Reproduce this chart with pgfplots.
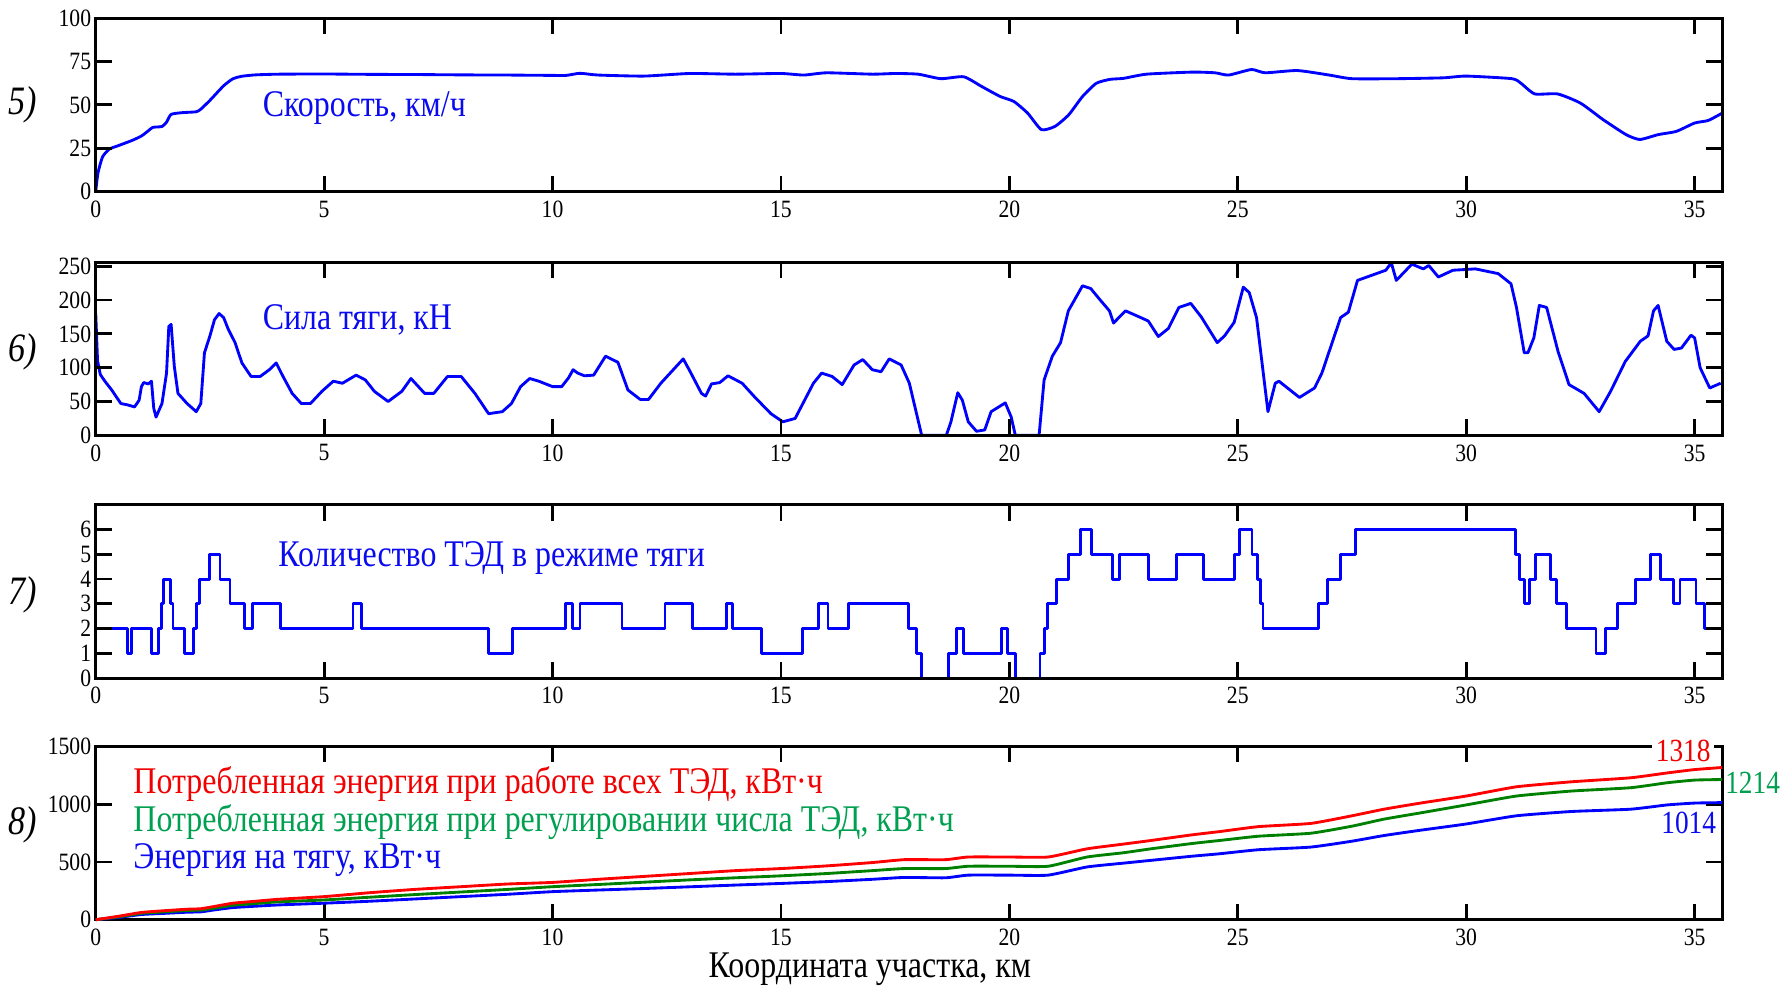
\documentclass[border=0pt]{standalone}
\usepackage{pgfplots}
\pgfplotsset{compat=1.18}
\usepackage{fontspec}
\setmainfont{Liberation Serif}
\definecolor{cblue}{RGB}{0,0,255}
\definecolor{cred}{RGB}{255,0,0}
\definecolor{cgreen}{RGB}{0,128,0}
\definecolor{tgreen}{RGB}{0,160,80}
\definecolor{tred}{RGB}{240,0,0}
\definecolor{tblue}{RGB}{10,10,240}
\tikzset{txt/.style={yscale=1.18, transform shape}}
\pgfplotsset{
 panel/.style={
  scale only axis, width=713.5pt, height=76pt, anchor=north west,
  xmin=0, xmax=35.6, xtick={0,5,...,35},
  tick align=inside, xticklabel pos=lower, yticklabel pos=left,
  xtick pos=both, ytick pos=both,
  major tick length=7pt,
  every tick/.style={black, line width=1.2pt},
  axis line style={line width=1.3pt},
  ticklabel style={font=\fontsize{9.5}{10}\selectfont, yscale=1.15, transform shape},
  yticklabel style={xshift=1.5pt},
  /pgf/number format/assume math mode=true,
  /pgf/number format/1000 sep={},
  axis on top, clip=false,
 },
 curve/.style={line width=1.25pt, line join=round},
}
\newcommand{\plab}{\fontsize{15}{16}\selectfont\itshape}
\newcommand{\tlab}{\fontsize{14}{16}\selectfont}
\begin{document}
\begin{tikzpicture}
\useasboundingbox (0,0) rectangle (784pt,-432.5pt);
% Panel 5
\begin{axis}[panel, at={(42pt,-8pt)}, ymin=0, ymax=100, ytick={0,25,50,75,100}]
\addplot[curve, cblue, smooth, tension=0.35] coordinates {
(0,0) (0.05,10.8) (0.15,20) (0.3,24.5) (0.5,26.5) (0.8,29.5) (1.0,32) (1.15,35) (1.25,37)
(1.45,37.5) (1.55,40) (1.65,44.5) (1.9,45.5) (2.2,46) (2.3,47.5) (2.5,52.6) (2.8,61) (3.0,65)
(3.2,66.5) (3.5,67.3) (4,67.7) (5,67.8) (6,67.6) (7,67.5) (8,67.3) (9,67.2) (10,67) (10.3,67)
(10.6,68.2) (11,67.2) (12,66.6) (13,68.1) (14,67.7) (15,68.1) (15.5,67.2) (16,68.5) (17,67.7)
(17.5,68.1) (18,67.7) (18.5,65.1) (19,66.2) (19.4,60.5) (19.8,54.8) (20.1,51.9) (20.4,45.2)
(20.7,35.7) (21.0,37.6) (21.3,44.3) (21.6,54.8) (21.9,62.4) (22.2,64.7) (22.5,65.3) (23,67.7)
(24,68.9) (24.5,68.5) (24.8,67.2) (25.3,70.4) (25.6,68.5) (26.3,69.8) (27,67.2) (27.5,65.1)
(28.5,65.1) (29.5,65.6) (30,66.6) (31,65.1) (31.2,62.4) (31.5,56.3) (32,56.3) (32.5,51)
(33,41.4) (33.5,32.8) (33.8,30) (34.2,32.8) (34.6,34.7) (35,39.5) (35.3,41) (35.6,45.2)
};
\node[txt, anchor=west, text=tblue, font=\tlab] at (axis cs:3.48,48) {Скорость, км/ч};
\node[txt, font=\plab] at (rel axis cs:-0.045,0.5) {5)};
\end{axis}
% Panel 6
\begin{axis}[panel, at={(42pt,-115pt)}, ymin=0, ymax=256, ytick={0,50,...,250}]
\addplot[curve, cblue] coordinates {
(0,180) (0.04,110) (0.1,90) (0.2,80) (0.35,67) (0.55,47) (0.7,45) (0.85,42) (0.95,52) (1.0,72)
(1.05,78) (1.15,76) (1.22,80) (1.27,40) (1.32,27) (1.45,47) (1.55,92) (1.6,161) (1.65,164)
(1.72,102) (1.8,62) (2.0,47) (2.2,35) (2.3,47) (2.38,122) (2.5,147) (2.6,171) (2.7,180)
(2.8,174) (2.9,157) (3.05,137) (3.2,107) (3.4,87) (3.6,87) (3.8,97) (3.95,107) (4.1,87)
(4.3,62) (4.5,47) (4.7,47) (4.95,65) (5.2,80) (5.4,77) (5.7,89) (5.9,82) (6.1,65) (6.4,50)
(6.7,65) (6.9,84) (7.2,62) (7.4,62) (7.7,87) (8.0,87) (8.3,62) (8.6,32) (8.9,35) (9.1,47)
(9.3,72) (9.5,84) (9.7,80) (10.0,72) (10.2,72) (10.35,85) (10.45,97) (10.55,92) (10.7,88)
(10.9,89) (11.16,117) (11.43,108) (11.65,67) (11.92,53) (12.1,53) (12.37,77) (12.86,113)
(12.99,97) (13.26,62) (13.35,58) (13.48,76) (13.66,78) (13.84,88) (14.15,77) (14.42,57)
(14.78,32) (15.04,20) (15.31,25) (15.71,77) (15.89,92) (16.12,87) (16.34,75) (16.6,104)
(16.79,112) (17.0,97) (17.19,94) (17.37,113) (17.63,104) (17.81,77) (17.95,37) (18.08,0)
(18.62,0) (18.72,20) (18.87,63) (18.97,52) (19.1,20) (19.28,6) (19.46,8) (19.6,35) (19.91,48)
(20.04,27) (20.13,0) (20.65,0) (20.76,82) (20.94,117) (21.12,137) (21.29,184) (21.6,221)
(21.78,217) (22.0,199) (22.19,184) (22.28,166) (22.54,184) (22.81,176) (23.04,169) (23.26,146)
(23.48,158) (23.71,189) (23.97,195) (24.2,175) (24.55,137) (24.71,147) (24.92,167) (25.12,219)
(25.25,211) (25.41,174) (25.66,35) (25.82,77) (25.9,80) (26.35,56) (26.68,70) (26.84,92)
(27.25,174) (27.42,182) (27.62,229) (28.24,244) (28.36,255) (28.47,229) (28.81,253) (29.06,246)
(29.18,251) (29.39,234) (29.71,244) (30.2,246) (30.7,239) (30.98,224) (31.1,189) (31.27,122)
(31.35,122) (31.48,144) (31.6,192) (31.76,189) (32.01,124) (32.25,75) (32.58,62) (32.91,35)
(33.16,65) (33.48,109) (33.81,139) (33.98,147) (34.1,184) (34.2,192) (34.39,139) (34.55,127)
(34.71,129) (34.92,148) (35.0,144) (35.12,100) (35.33,70) (35.57,77)
};
\node[txt, anchor=west, text=tblue, font=\tlab] at (axis cs:3.48,171) {Сила тяги, кН};
\node[txt, font=\plab] at (rel axis cs:-0.045,0.48) {6)};
\end{axis}
% Panel 7
\begin{axis}[panel, at={(42pt,-221.5pt)}, ymin=0, ymax=7, ytick={0,...,6}]
\addplot[curve, cblue, const plot] coordinates {
(0,2) (0.70,1) (0.78,2) (1.22,1) (1.37,2) (1.44,3) (1.49,4) (1.63,3) (1.69,2) (1.95,1) (2.14,2)
(2.20,3) (2.28,4) (2.49,5) (2.72,4) (2.94,3) (3.25,2) (3.43,3) (4.04,2) (5.63,3) (5.82,2)
(8.59,1) (9.13,2) (10.29,3) (10.44,2) (10.60,3) (11.52,2) (12.46,3) (13.06,2) (13.81,3)
(13.93,2) (14.57,1) (15.47,2) (15.83,3) (16.03,2) (16.47,3) (17.79,2) (17.97,1) (18.08,0)
(18.66,1) (18.84,2) (18.99,1) (19.82,2) (19.96,1) (20.13,0) (20.67,1) (20.76,2) (20.83,3)
(21.04,4) (21.29,5) (21.56,6) (21.80,5) (22.25,4) (22.41,5) (23.04,4) (23.66,5) (24.25,4)
(24.93,5) (25.04,6) (25.31,5) (25.44,4) (25.50,3) (25.55,2) (26.77,3) (26.96,4) (27.24,5)
(27.57,6) (31.07,5) (31.17,4) (31.28,3) (31.39,4) (31.51,5) (31.85,4) (31.98,3) (32.19,2)
(32.84,1) (33.04,2) (33.31,3) (33.71,4) (34.04,5) (34.26,4) (34.53,3) (34.68,4) (35.03,3)
(35.21,2) (35.6,2)
};
\node[txt, anchor=west, text=tblue, font=\tlab] at (axis cs:3.82,4.85) {Количество ТЭД в режиме тяги};
\node[txt, font=\plab] at (rel axis cs:-0.045,0.48) {7)};
\end{axis}
% Panel 8
\begin{axis}[panel, axis on top=false, at={(42pt,-327.5pt)}, ymin=0, ymax=1500, ytick={0,500,1000,1500}]
\addplot[curve, cblue, smooth, tension=0.3] coordinates {
(0,0) (0.5,20) (1,45) (1.5,55) (2,65) (2.3,68) (2.6,85) (3,105) (3.5,117) (4,128) (5,143)
(6,160) (7,180) (8,200) (9,220) (10,243) (11,257) (12,270) (13,285) (14,300) (15,314) (16,330)
(17,350) (17.7,366) (18.6,363) (19.1,386) (20,386) (20.85,386) (21.7,457) (22.5,490)
(23.1,514) (24,550) (24.6,571) (25.45,606) (26.6,629) (27.5,680) (28.2,729) (29,775) (30,829)
(31.1,900) (32.3,937) (33.6,957) (34.4,994) (35,1010) (35.6,1014)
};
\addplot[curve, cgreen, smooth, tension=0.3] coordinates {
(0,0) (0.5,25) (1,55) (1.5,68) (2,80) (2.3,83) (2.6,100) (3,125) (3.5,140) (4,155) (5,171)
(6,195) (7,218) (8,240) (9,262) (10,286) (11,305) (12,325) (13,345) (14,363) (15,380) (16,400)
(17,425) (17.7,443) (18.6,443) (19.1,463) (20,463) (20.85,463) (21.7,543) (22.5,580)
(23.1,614) (24,660) (24.6,686) (25.45,723) (26.6,749) (27.5,810) (28.2,871) (29,925) (30,994)
(31.1,1071) (32.3,1114) (33.6,1143) (34.4,1186) (35,1209) (35.6,1214)
};
\addplot[curve, cred, smooth, tension=0.3] coordinates {
(0,0) (0.5,30) (1,63) (1.5,78) (2,91) (2.3,95) (2.6,115) (3,143) (3.5,160) (4,177) (5,200)
(6,234) (7,263) (8,286) (9,309) (10,323) (11,350) (12,375) (13,400) (14,425) (15,443) (16,466)
(17,495) (17.7,520) (18.6,520) (19.1,543) (20,543) (20.85,543) (21.7,614) (22.5,655)
(23.1,686) (24,735) (24.6,763) (25.45,806) (26.6,834) (27.5,900) (28.2,957) (29,1010) (30,1071)
(31.1,1151) (32.3,1194) (33.6,1229) (34.4,1271) (35,1300) (35.6,1318)
};
\node[txt, anchor=west, text=tred, font=\tlab] at (axis cs:0.65,1172) {Потребленная энергия при работе всех ТЭД, кВт·ч};
\node[txt, anchor=west, text=tgreen, font=\tlab] at (axis cs:0.65,844) {Потребленная энергия при регулировании числа ТЭД, кВт·ч};
\node[txt, anchor=west, text=tblue, font=\tlab] at (axis cs:0.65,516) {Энергия на тягу, кВт·ч};
\node[txt, text=tred, fill=white, inner sep=1.5pt, font=\fontsize{12}{13}\selectfont] at (axis cs:34.75,1460) {1318};
\node[txt, text=tgreen, font=\fontsize{12}{13}\selectfont] at (axis cs:36.27,1182) {1214};
\node[txt, text=tblue, font=\fontsize{12}{13}\selectfont] at (axis cs:34.87,834) {1014};
\node[txt, font=\plab] at (rel axis cs:-0.045,0.55) {8)};
\node[txt, font=\tlab] at (rel axis cs:0.476,-0.285) {Координата участка, км};
\end{axis}
\end{tikzpicture}
\end{document}
